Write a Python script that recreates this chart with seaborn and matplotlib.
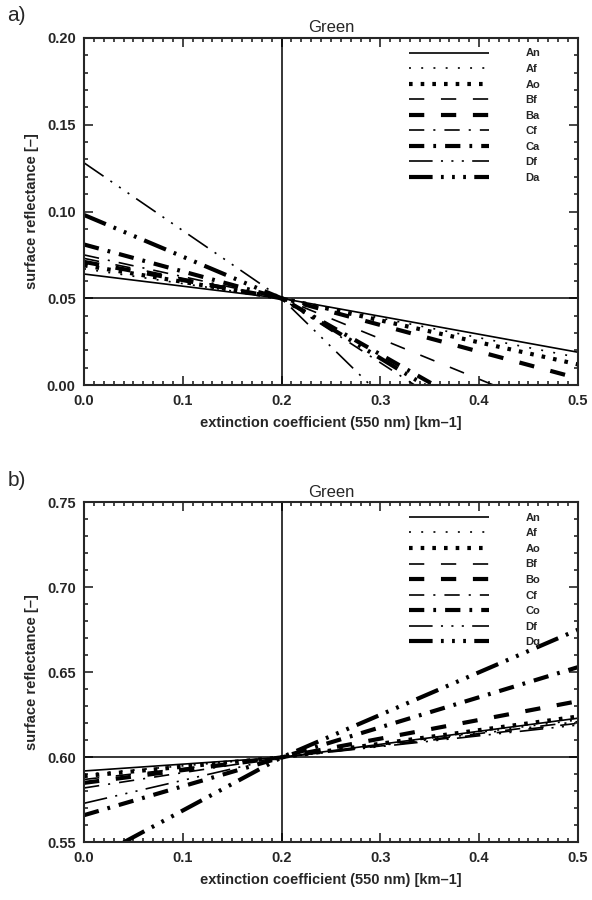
import matplotlib
matplotlib.use("Agg")
from matplotlib import pyplot as plt
import seaborn as sns
import pandas as pd
import numpy as np

# series labels as printed in the two legends
names_a = ["An", "Af", "Ao", "Bf", "Ba", "Cf", "Ca", "Df", "Da"]
names_b = ["An", "Af", "Ao", "Bf", "Bo", "Cf", "Co", "Df", "Dq"]

# panel a: start point, crossing point, end point of each line
cross_a = (0.2, 0.05)
a_x0 = [0.0, 0.0, 0.0, 0.0, 0.0, 0.0, 0.0, 0.0, 0.0]
a_y0 = [0.064, 0.067, 0.069, 0.073, 0.071, 0.075, 0.081, 0.128, 0.098]
a_x1 = [0.5, 0.5, 0.5, 0.415, 0.5, 0.335, 0.355, 0.29, 0.345]
a_y1 = [0.019, 0.016, 0.012, 0.0, 0.004, 0.0, 0.0, 0.0, 0.0]

# panel b
cross_b = (0.2, 0.60)
b_x0 = [0.0, 0.0, 0.0, 0.0, 0.0, 0.0, 0.0, 0.0, 0.04]
b_y0 = [0.592, 0.590, 0.589, 0.587, 0.585, 0.582, 0.566, 0.573, 0.55]
b_x1 = [0.5, 0.5, 0.5, 0.5, 0.5, 0.5, 0.5, 0.5, 0.5]
b_y1 = [0.623, 0.622, 0.624, 0.620, 0.633, 0.621, 0.653, 0.619, 0.675]

# line styles (points, scale_dashes off): thin / thick versions
styles = [
    (1.2, None),
    (1.2, (1.4, 7.4)),
    (3.0, (2.6, 5.8)),
    (1.2, (11, 12)),
    (3.0, (11, 12)),
    (1.2, (11, 6.5, 1.5, 6.5)),
    (3.0, (11, 6.5, 2.0, 6.5)),
    (1.2, (17, 6, 1.5, 6, 1.5, 6, 1.5, 6)),
    (3.0, (17, 6, 2.0, 6, 2.0, 6, 2.0, 6)),
]

sns.set_style("ticks")
plt.rcParams["font.family"] = ["Liberation Sans", "DejaVu Sans"]
plt.rcParams["lines.scale_dashes"] = False
plt.rcParams["xtick.direction"] = "in"
plt.rcParams["ytick.direction"] = "in"


def build(names, x0, y0, x1, y1, cross):
    rows = []
    for n, a, b, c, d in zip(names, x0, y0, x1, y1):
        for x, y in [(a, b), cross, (c, d)]:
            rows.append({"name": n, "x": x, "y": y})
    return pd.DataFrame(rows)


def panel(ax, df, names, cross, ylim, yticks, tag):
    ax.axvline(cross[0], color="black", lw=1.1, zorder=1)
    ax.axhline(cross[1], color="black", lw=1.1, zorder=1)
    for n, (lw, dash) in zip(names, styles):
        sub = df[df.name == n]
        ls = "-" if dash is None else (0, dash)
        sns.lineplot(data=sub, x="x", y="y", ax=ax, color="black",
                     linewidth=lw, linestyle=ls, estimator=None, sort=False,
                     label=n, solid_capstyle="butt", dash_capstyle="butt")
    ax.set_xlim(0, 0.5)
    ax.set_ylim(*ylim)
    ax.set_xticks(np.arange(0, 0.51, 0.1))
    ax.set_xticks(np.arange(0, 0.501, 0.01), minor=True)
    ax.set_yticks(yticks)
    ax.set_yticks(np.arange(ylim[0], ylim[1] + 1e-9, 0.01), minor=True)
    ax.xaxis.set_major_formatter(matplotlib.ticker.FormatStrFormatter("%.1f"))
    ax.yaxis.set_major_formatter(matplotlib.ticker.FormatStrFormatter("%.2f"))
    ax.tick_params(which="both", top=True, right=True, width=1.2)
    ax.tick_params(which="major", length=6.5, labelsize=10.5, pad=6)
    ax.tick_params(which="minor", length=3)
    for lab in ax.get_xticklabels() + ax.get_yticklabels():
        lab.set_fontweight("bold")
    for s in ax.spines.values():
        s.set_linewidth(1.5)
    ax.set_xlabel("extinction coefficient (550 nm) [km\u20131]",
                  fontsize=10.5, fontweight="bold", labelpad=6)
    ax.set_ylabel("surface reflectance [\u2013]", fontsize=10.5,
                  fontweight="bold", labelpad=6)
    ax.set_title("Green", fontsize=12, pad=4)
    ax.text(-0.155, 1.065, tag, transform=ax.transAxes, fontsize=15,
            ha="left", va="center")
    leg = ax.legend(loc="upper left", bbox_to_anchor=(0.64, 0.995),
                    frameon=False, fontsize=8, handlelength=7.2,
                    handletextpad=3.3, labelspacing=0.5, borderpad=0.3)
    for t in leg.get_texts():
        t.set_fontweight("bold")


fig = plt.figure(figsize=(5.92, 9.0), dpi=100)
ax_a = fig.add_axes([0.142, 0.572, 0.834, 0.386])
ax_b = fig.add_axes([0.142, 0.064, 0.834, 0.378])

df_a = build(names_a, a_x0, a_y0, a_x1, a_y1, cross_a)
df_b = build(names_b, b_x0, b_y0, b_x1, b_y1, cross_b)

panel(ax_a, df_a, names_a, cross_a, (0.0, 0.20),
      [0.0, 0.05, 0.10, 0.15, 0.20], "a)")
panel(ax_b, df_b, names_b, cross_b, (0.55, 0.75),
      [0.55, 0.60, 0.65, 0.70, 0.75], "b)")

plt.savefig("out.png", dpi=100)
